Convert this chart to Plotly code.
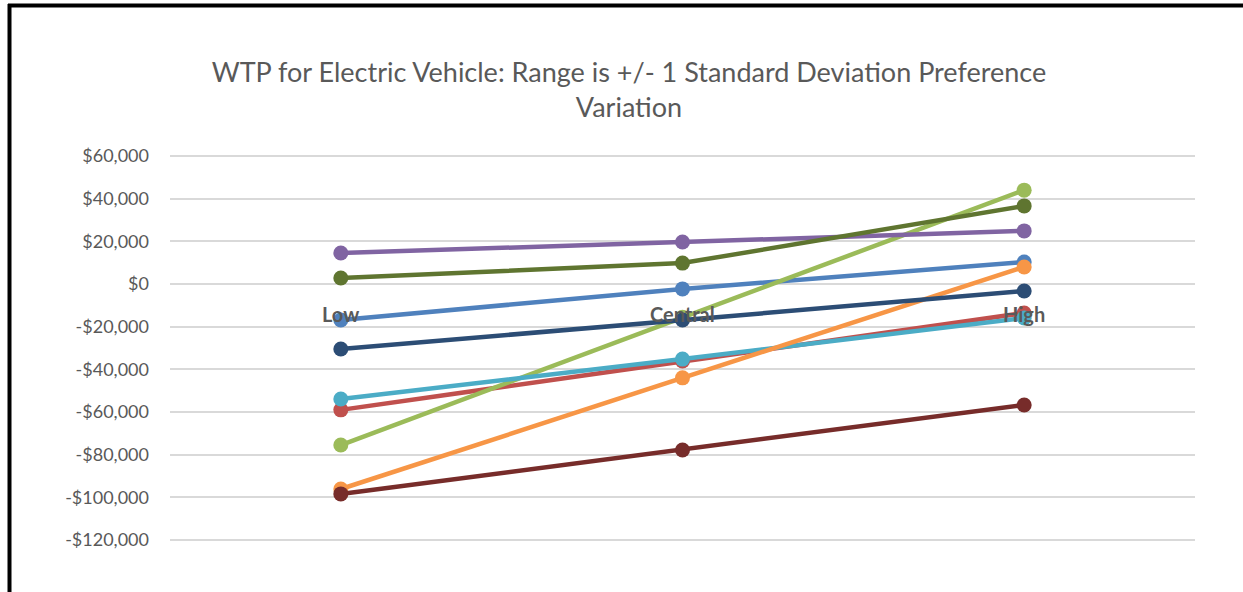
import plotly.graph_objects as go

categories = ["Low", "Central", "High"]

series_names = ["Series 1", "Series 2", "Series 3", "Series 4", "Series 5",
                "Series 6", "Series 7", "Series 8", "Series 9"]
s1 = [-16900, -2300, 10300]     # blue
s2 = [-59000, -36100, -13600]   # red
s3 = [-75500, -15600, 44000]    # light green
s4 = [14500, 19700, 24900]      # purple
s5 = [-53900, -35200, -15900]   # aqua
s6 = [-96100, -44000, 8000]     # orange
s7 = [-30500, -16900, -3300]    # dark blue
s8 = [-98400, -77800, -56700]   # dark red
s9 = [2800, 9800, 36600]        # dark green
all_series = [s1, s2, s3, s4, s5, s6, s7, s8, s9]

colors = ["#4F81BD", "#C0504D", "#9BBB59", "#8064A2", "#4BACC6",
          "#F79646", "#2C4D75", "#772C2A", "#5F7530"]

tick_vals = [60000, 40000, 20000, 0, -20000, -40000, -60000, -80000, -100000, -120000]
tick_text = ["$60,000", "$40,000", "$20,000", "$0", "-$20,000", "-$40,000",
             "-$60,000", "-$80,000", "-$100,000", "-$120,000"]

title_text = "WTP for Electric Vehicle: Range is +/- 1 Standard Deviation Preference<br>Variation"

FONT = "Lato, 'Open Sans', sans-serif"
GRAY = "#595959"

fig = go.Figure()
for name, vals, col in zip(series_names, all_series, colors):
    fig.add_trace(go.Scatter(
        x=categories, y=vals, name=name, mode="lines+markers",
        line=dict(color=col, width=4.5),
        marker=dict(color=col, size=15),
        cliponaxis=False,
    ))

for c in categories:
    fig.add_annotation(x=c, y=0, xref="x", yref="y", text="<b>%s</b>" % c,
                       showarrow=False, yanchor="top", yshift=-16,
                       font=dict(family=FONT, size=20, color=GRAY))

W, H = 1243, 592
L, R, T, B = 170, 48, 154, 50
pw, ph = W - L - R, H - T - B
PAD = 2 * 60000 / 128.0  # two pixels of data units

def px_x(p):
    return (p - L) / pw

def px_y(p):
    return (H - B - p) / ph

fig.add_shape(type="line", xref="paper", yref="paper",
              x0=px_x(9.5), x1=px_x(9.5), y0=px_y(4), y1=px_y(592),
              line=dict(color="black", width=4))
fig.add_shape(type="line", xref="paper", yref="paper",
              x0=px_x(8), x1=px_x(1243), y0=px_y(5.5), y1=px_y(5.5),
              line=dict(color="black", width=4))

fig.update_layout(
    width=W, height=H,
    margin=dict(l=L, r=R, t=T, b=B),
    paper_bgcolor="white", plot_bgcolor="white",
    showlegend=False,
    title=dict(text=title_text, x=629 / W, xref="container", xanchor="center",
               y=1 - 82 / H, yanchor="middle",
               font=dict(family=FONT, size=27, color=GRAY)),
    font=dict(family=FONT, color=GRAY),
    xaxis=dict(type="category", range=[-0.5, 2.5], showticklabels=False,
               showgrid=False, zeroline=False, showline=False, ticks=""),
    yaxis=dict(range=[-120000 - PAD, 60000 + PAD], tickvals=tick_vals, ticktext=tick_text,
               showgrid=True, gridcolor="#D9D9D9", gridwidth=1.5,
               zeroline=False, showline=False, ticks="",
               tickfont=dict(family=FONT, size=18, color=GRAY),
               ticklabelstandoff=20),
)

fig.write_html("out.html",
               config={"displayModeBar": False},
               post_script=("document.body.style.margin='0';"
                            "document.body.style.overflow='hidden';"
                            "document.documentElement.style.overflow='hidden';"))
